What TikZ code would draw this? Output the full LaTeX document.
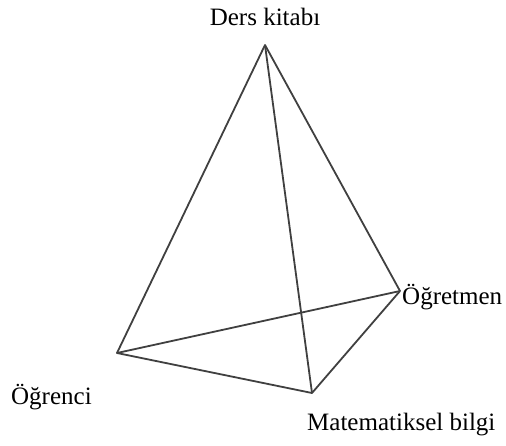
\documentclass[tikz,border=0pt]{standalone}
\usepackage{fontspec}
\setmainfont{Liberation Serif}
\begin{document}
\begin{tikzpicture}[x=1pt,y=-1pt,
    edge/.style={draw=black!75,line width=1.8pt,line join=round},
    lbl/.style={inner sep=0pt,font=\fontsize{25}{29}\selectfont}]
    \useasboundingbox (0,0) rectangle (506,445);
    \coordinate (kitap) at (265,45);
    \coordinate (ogrenci) at (117,353);
    \coordinate (ogretmen) at (400,291);
    \coordinate (bilgi) at (312,393);
    \draw[edge] (kitap) -- (ogrenci) -- (bilgi) -- (ogretmen) -- cycle;
    \draw[edge] (kitap) -- (bilgi);
    \draw[edge] (ogrenci) -- (ogretmen);
    \node[lbl] (kitapl) at (265,17) {Ders kitabı};
    \node[lbl,anchor=west] (ogretmenl) at (402,297) {Öğretmen};
    \node[lbl,anchor=west] (ogrencil) at (11,397) {Öğrenci};
    \node[lbl,anchor=west] (bilgil) at (307,425) {Matematiksel bilgi};
  \end{tikzpicture}
\end{document}
